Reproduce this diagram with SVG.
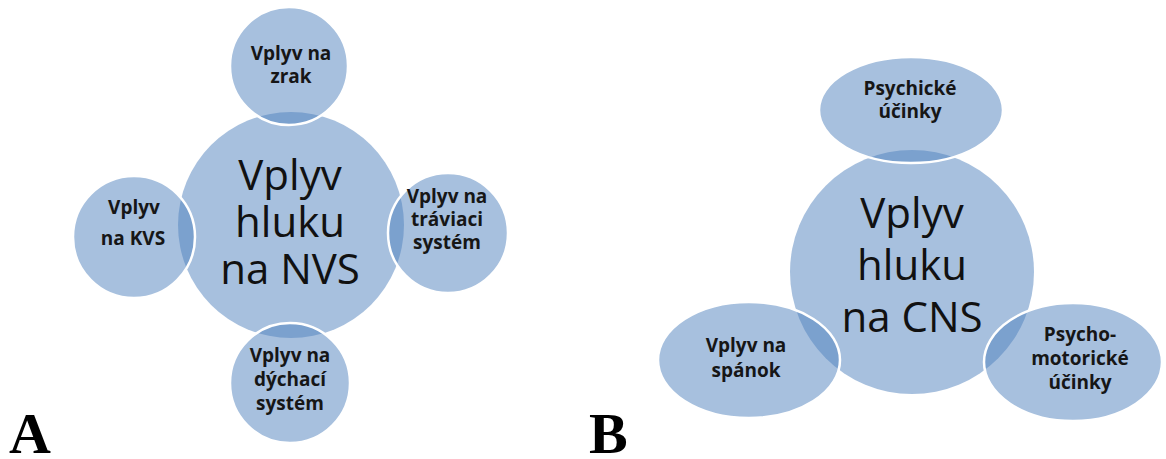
<svg xmlns="http://www.w3.org/2000/svg" width="1166" height="459" viewBox="0 0 1166 459">
  <style>
    .hub { fill: #4f81bd; fill-opacity: 0.5; stroke: none; }
    .sat { fill: #4f81bd; fill-opacity: 0.5; stroke: #ffffff; stroke-width: 2.5; }
    .big { font-family: "Open Sans", "Noto Sans", sans-serif; font-size: 42px; fill: #111111; text-anchor: middle; }
    .small { font-family: "Open Sans", "Noto Sans", sans-serif; font-size: 19px; font-weight: bold; fill: #161616; text-anchor: middle; }
    .panel { font-family: "Liberation Serif", "Times New Roman", serif; font-size: 58px; font-weight: bold; fill: #000000; }
  </style>
  <rect width="1166" height="459" fill="#ffffff"/>

  <!-- Panel A: effects of noise on the autonomic nervous system -->
  <g id="a-hub">
    <circle class="hub" cx="291" cy="225" r="113"/>
  </g>
  <g id="a-top">
    <circle class="sat" cx="289" cy="66" r="59"/>
    <text class="small" x="291" y="60">Vplyv na</text>
    <text class="small" x="291" y="83">zrak</text>
  </g>
  <g id="a-left">
    <circle class="sat" cx="134" cy="237" r="61"/>
    <text class="small" x="134" y="214">Vplyv</text>
    <text class="small" x="133" y="245">na KVS</text>
  </g>
  <g id="a-right">
    <circle class="sat" cx="448" cy="233" r="60"/>
    <text class="small" x="447" y="203">Vplyv na</text>
    <text class="small" x="447" y="226">tráviaci</text>
    <text class="small" x="447" y="249">systém</text>
  </g>
  <g id="a-bottom">
    <circle class="sat" cx="290" cy="383" r="60"/>
    <text class="small" x="290" y="362">Vplyv na</text>
    <text class="small" x="290" y="386">dýchací</text>
    <text class="small" x="290" y="410">systém</text>
  </g>
  <g id="a-hub-label">
    <text class="big" x="290" y="190">Vplyv</text>
    <text class="big" x="290" y="237">hluku</text>
    <text class="big" x="290" y="284">na NVS</text>
  </g>
  <text class="panel" x="9" y="453">A</text>

  <!-- Panel B: effects of noise on the central nervous system -->
  <g id="b-hub">
    <circle class="hub" cx="912" cy="272" r="122"/>
  </g>
  <g id="b-top">
    <ellipse class="sat" cx="911" cy="110" rx="92" ry="53"/>
    <text class="small" x="910" y="95">Psychické</text>
    <text class="small" x="910" y="118">účinky</text>
  </g>
  <g id="b-left">
    <ellipse class="sat" cx="749" cy="360" rx="91" ry="58"/>
    <text class="small" x="746" y="352">Vplyv na</text>
    <text class="small" x="746" y="377">spánok</text>
  </g>
  <g id="b-right">
    <ellipse class="sat" cx="1073" cy="362" rx="89" ry="59"/>
    <text class="small" x="1080" y="341">Psycho-</text>
    <text class="small" x="1080" y="365">motorické</text>
    <text class="small" x="1080" y="389">účinky</text>
  </g>
  <g id="b-hub-label">
    <text class="big" x="912" y="228">Vplyv</text>
    <text class="big" x="912" y="280">hluku</text>
    <text class="big" x="912" y="332">na CNS</text>
  </g>
  <text class="panel" x="589" y="453">B</text>
</svg>
